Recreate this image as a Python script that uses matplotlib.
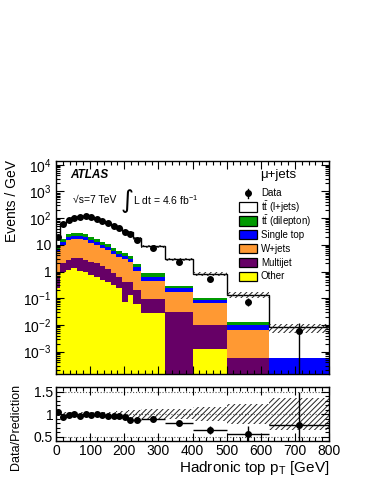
import numpy as np
import matplotlib
matplotlib.use('Agg')
import matplotlib.pyplot as plt
from matplotlib.ticker import MultipleLocator, LogLocator, NullFormatter, FuncFormatter, FixedLocator
from matplotlib.patches import Rectangle

plt.rcParams['font.family'] = ['Liberation Sans', 'DejaVu Sans']
plt.rcParams['mathtext.fontset'] = 'custom'
plt.rcParams['mathtext.rm'] = 'Liberation Sans'
plt.rcParams['mathtext.it'] = 'Liberation Sans:italic'
plt.rcParams['mathtext.bf'] = 'Liberation Sans:bold'
plt.rcParams['hatch.linewidth'] = 0.7

# ---------------- data ----------------
bin_edges = [0, 12, 29, 45, 62, 78, 95, 111, 128, 144, 161, 177, 193, 210, 226, 250, 320, 400, 500, 625, 800]

data = [20, 59, 85, 103, 113, 120, 107, 93, 78, 64, 52, 42, 31, 25, 15, 7.8, 2.3, 0.52, 0.074, 0.006]
data_rel_err = [0.065, 0.031, 0.026, 0.024, 0.022, 0.021, 0.023, 0.025, 0.028, 0.031, 0.034, 0.038,
                0.045, 0.05, 0.053, 0.043, 0.074, 0.14, 0.33, 1.0]

other = [0.25, 1.0, 1.14, 1.3, 1.07, 1.0, 0.74, 0.6, 0.48, 0.42, 0.31, 0.25, 0.074, 0.13, 0.06, 0.027, 0, 0.0013, 0, 0]
multijet = [0.30, 1.0, 1.56, 1.8, 2.03, 1.7, 1.56, 1.4, 1.12, 0.78, 0.55, 0.39, 0.32, 0.29, 0.14, 0.063, 0.031, 0.0087, 0.00056, 0]
wjets = [4.95, 7.8, 12.3, 13.5, 13.5, 12.3, 9.7, 7.9, 6.2, 5.0, 3.84, 2.96, 2.5, 1.88, 0.87, 0.35, 0.144, 0.058, 0.0059, 0]
single_top = [1.5, 2.7, 4.5, 4.4, 4.4, 4.5, 3.6, 3.0, 2.3, 1.9, 1.4, 1.1, 0.8, 0.7, 0.38, 0.16, 0.059, 0.018, 0.0035, 0.0006]
tt_dilepton = [1.5, 3.5, 5.5, 6, 6, 5.5, 4.4, 3.6, 2.9, 2.3, 1.7, 1.3, 1.1, 0.8, 0.45, 0.26, 0.056, 0.014, 0.003, 0]
tt_ljets = [10.5, 47, 61, 75, 91, 94, 90, 77.5, 66, 56.6, 46.2, 38, 28.2, 25.2, 15.6, 7.94, 2.61, 0.71, 0.122, 0.0074]

mc_rel_unc = [0.05, 0.05, 0.05, 0.05, 0.05, 0.05, 0.05, 0.05, 0.05, 0.05, 0.05, 0.06, 0.07, 0.08,
              0.10, 0.11, 0.11, 0.15, 0.23, 0.36]

legend_labels = [r'$\mathregular{t\bar{t}}$ (l+jets)', r'$\mathregular{t\bar{t}}$ (dilepton)',
                 'Single top', 'W+jets', 'Multijet', 'Other']
xticks = [0, 100, 200, 300, 400, 500, 600, 700, 800]
ratio_ticks = [0.5, 1, 1.5]
ratio_ticklabels = ['0.5', '1', '1.5']

# ---------------- derived ----------------
edges = np.array(bin_edges, float)
centers = 0.5 * (edges[1:] + edges[:-1])
half = 0.5 * np.diff(edges)
data_a = np.array(data)
rel = np.array(data_rel_err)

layers = [(other, '#ffff00'), (multijet, '#660066'), (wjets, '#ff9933'),
          (single_top, '#0000ff'), (tt_dilepton, '#009900'), (tt_ljets, '#ffffff')]
cum = np.cumsum([np.array(v, float) for v, _ in layers], axis=0)
total = cum[-1]
unc = np.array(mc_rel_unc)

W, H = 374, 484
fig = plt.figure(figsize=(W / 100, H / 100), dpi=100)

def fax(l, t, r, b):
    return fig.add_axes([l / W, 1 - b / H, (r - l) / W, (b - t) / H])

ax = fax(56, 161, 329, 374)
rx = fax(56, 387, 329, 441)

# ---------------- main panel ----------------
ylo, yhi = 10 ** -3.84, 10 ** 4.14
for i in range(len(layers) - 1, -1, -1):
    vals = np.clip(cum[i], 1e-9, None)
    ax.stairs(vals, edges, baseline=1e-9, fill=True, color=layers[i][1], lw=0, zorder=1 + (5 - i) * 0.01)
ax.stairs(total, edges, baseline=None, color='k', lw=1.0, zorder=2)
ax.stairs(total * (1 + unc), edges, baseline=total * (1 - unc), fill=True,
          facecolor='none', edgecolor='#222222', hatch='//////', lw=0, zorder=2.5)

lower = data_a * np.minimum(rel, 0.999)
ax.errorbar(centers, data_a, yerr=[lower, data_a * rel], fmt='o', color='k', ms=4.0,
            elinewidth=1.0, capsize=0, zorder=5)

ax.set_yscale('log')
ax.set_ylim(ylo, yhi)
ax.set_xlim(0, 800)

def logfmt(v, pos):
    e = int(round(np.log10(v)))
    if e == 0:
        return '1'
    if e == 1:
        return '10'
    return r'$\mathregular{10^{%d}}$' % e

ax.yaxis.set_major_locator(LogLocator(base=10, numticks=20))
ax.yaxis.set_minor_locator(LogLocator(base=10, subs=np.arange(2, 10), numticks=20))
ax.yaxis.set_major_formatter(FuncFormatter(logfmt))
ax.yaxis.set_minor_formatter(NullFormatter())
ax.xaxis.set_major_locator(FixedLocator(xticks))
ax.xaxis.set_minor_locator(MultipleLocator(20))
ax.tick_params(which='both', direction='in', top=True, right=True, labelbottom=False, width=0.8)
ax.tick_params(which='major', length=6, labelsize=10)
ax.tick_params(which='minor', length=3)
ax.set_ylabel('Events / GeV', fontsize=10)
ax.yaxis.set_label_coords(-0.135, 0.81)
for s in ax.spines.values():
    s.set_linewidth(1.0)

# ---------------- ratio panel ----------------
rx.stairs(1 + unc, edges, baseline=1 - unc, fill=True, facecolor='none',
          edgecolor='#222222', hatch='//////', lw=0, zorder=1)
for yv in ratio_ticks:
    rx.axhline(yv, color='#555555', ls=':', lw=0.8, zorder=0.5)
ratio = data_a / total
rx.errorbar(centers, ratio, yerr=ratio * rel, xerr=half, fmt='o', color='k', ms=4.0,
            elinewidth=1.0, capsize=0, zorder=5)
rx.set_xlim(0, 800)
rx.set_ylim(0.4, 1.6)
rx.yaxis.set_major_locator(FixedLocator(ratio_ticks))
rx.yaxis.set_major_formatter(FuncFormatter(lambda v, p: ratio_ticklabels[ratio_ticks.index(v)] if v in ratio_ticks else ''))
rx.yaxis.set_minor_locator(MultipleLocator(0.1))
rx.xaxis.set_major_locator(FixedLocator(xticks))
rx.xaxis.set_minor_locator(MultipleLocator(20))
rx.tick_params(which='both', direction='in', top=True, right=True, width=0.8)
rx.tick_params(which='major', length=6, labelsize=10, pad=2)
rx.tick_params(which='minor', length=3)
rx.set_xlabel(r'Hadronic top $\mathregular{p_T}$ [GeV]', fontsize=11, loc='right', labelpad=1)
rx.set_ylabel('Data/Prediction', fontsize=9)
rx.yaxis.set_label_coords(-0.125, 0.26)
for s in rx.spines.values():
    s.set_linewidth(1.0)

# ---------------- annotations & legend (pixel overlay) ----------------
ov = fig.add_axes([0, 0, 1, 1])
ov.set_xlim(0, W)
ov.set_ylim(H, 0)
ov.axis('off')
ov.patch.set_visible(False)

ov.text(70, 175, 'ATLAS', fontsize=8.5, fontweight='bold', fontstyle='italic', va='center', ha='left')
ov.text(73, 200, '√s=7 TeV', fontsize=7.5, va='center', ha='left')
ov.text(121, 201, '∫', fontsize=18, va='center', ha='left', family='DejaVu Sans')
ov.text(133, 200, r'L dt = 4.6 fb$^{\mathregular{-1}}$', fontsize=7.5, va='center', ha='left')
ov.text(260, 175, 'μ+jets', fontsize=9.5, va='center', ha='left')

y0, dy = 193, 13.9
ov.plot([248.3], [y0], 'o', color='k', ms=4.0)
ov.plot([248.3, 248.3], [y0 - 4.5, y0 + 4.5], color='k', lw=1)
ov.text(261, y0, 'Data', fontsize=7, va='center', ha='left')
leg_colors = ['#ffffff', '#009900', '#0000ff', '#ff9933', '#660066', '#ffff00']
for k, (lab, col) in enumerate(zip(legend_labels, leg_colors)):
    yy = y0 + dy * (k + 1)
    ov.add_patch(Rectangle((239.5, yy - 4.7), 18, 9.4, facecolor=col, edgecolor='k', lw=0.9))
    ov.text(261, yy, lab, fontsize=7, va='center', ha='left')

fig.savefig('out.png', dpi=100)
